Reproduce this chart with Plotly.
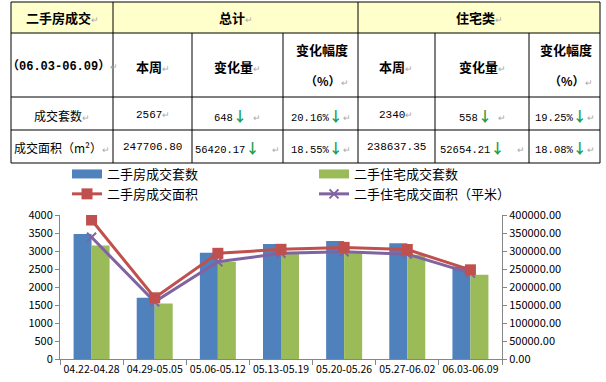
import plotly.graph_objects as go

W, H = 606, 382

# ---------------- data ----------------
categories = ["04.22-04.28", "04.29-05.05", "05.06-05.12", "05.13-05.19",
              "05.20-05.26", "05.27-06.02", "06.03-06.09"]
total_units = [3470, 1700, 2950, 3195, 3280, 3215, 2567]
res_units = [3150, 1540, 2700, 2950, 2970, 2898, 2340]
total_area = [386000, 170000, 293600, 304700, 310000, 304126.97, 247706.80]
res_area = [338000, 159000, 270000, 293600, 298000, 291291.56, 238637.35]

series_names = ["二手房成交套数", "二手住宅成交套数", "二手房成交面积", "二手住宅成交面积（平米）"]

left_ticks = list(range(0, 4001, 500))
right_ticks = list(range(0, 400001, 50000))
right_tick_labels = [f"{v:.2f}" for v in right_ticks]

# table content
period = "（06.03-06.09）"
table_header = ["二手房成交", "总计", "住宅类"]
col_heads = ["本周", "变化量", "变化幅度"]
row_labels = ["成交套数", "成交面积（m²）"]
total_now = ["2567", "247706.80"]
total_chg = ["648", "56420.17"]
total_pct = ["20.16%", "18.55%"]
res_now = ["2340", "238637.35"]
res_chg = ["558", "52654.21"]
res_pct = ["19.25%", "18.08%"]

BLUE, GREEN, RED, PURPLE = "#4F81BD", "#9BBB59", "#C0504D", "#8064A2"
CJK = "Noto Sans CJK SC"
MONO = "Liberation Mono, Noto Sans CJK SC"

fig = go.Figure()
fig.add_trace(go.Bar(x=categories, y=total_units, name=series_names[0],
                     marker=dict(color=BLUE, line=dict(width=0)), showlegend=False))
fig.add_trace(go.Bar(x=categories, y=res_units, name=series_names[1],
                     marker=dict(color=GREEN, line=dict(width=0)), showlegend=False))
fig.add_trace(go.Scatter(x=categories, y=res_area, name=series_names[3], yaxis="y2",
                         mode="lines+markers", line=dict(color=PURPLE, width=3),
                         marker=dict(symbol="x-thin", size=9, color=PURPLE,
                                     line=dict(color=PURPLE, width=2)),
                         legendrank=4))
fig.add_trace(go.Scatter(x=categories, y=total_area, name=series_names[2], yaxis="y2",
                         mode="lines+markers", line=dict(color=RED, width=3),
                         marker=dict(symbol="square", size=11, color=RED),
                         legendrank=3))
# legend entries for the bar series (wide rectangle swatches as in the reference)
fig.add_trace(go.Scatter(x=[None], y=[None], name=series_names[0], mode="lines",
                         line=dict(color=BLUE, width=9), legendrank=1, hoverinfo="skip"))
fig.add_trace(go.Scatter(x=[None], y=[None], name=series_names[1], mode="lines",
                         line=dict(color=GREEN, width=9), legendrank=2, hoverinfo="skip"))


def px(x):
    return x / W


def py(y):
    return 1 - y / H


shapes = []
annotations = []

# ---------------- table ----------------
cols = [11, 113, 192, 283, 358, 435, 529, 600]
rows = [2, 33, 97, 130, 163]

shapes.append(dict(type="rect", xref="paper", yref="paper",
                   x0=px(cols[0]), x1=px(cols[-1]), y0=py(rows[0]), y1=py(rows[1]),
                   fillcolor="#FFFFCC", line=dict(width=0), layer="below"))
LINE = dict(color="#000000", width=1)
for r in rows:
    shapes.append(dict(type="line", xref="paper", yref="paper",
                       x0=px(cols[0]), x1=px(cols[-1]), y0=py(r), y1=py(r), line=LINE))
for i, c in enumerate(cols):
    y0 = rows[1] if i in (2, 3, 5, 6) else rows[0]
    shapes.append(dict(type="line", xref="paper", yref="paper",
                       x0=px(c), x1=px(c), y0=py(y0), y1=py(rows[-1]), line=LINE))

RET = "<span style='color:#A8A8A8;font-size:9px'>↵</span>"
ARROW = ("<span style='color:#16A04A;font-family:Noto Sans CJK SC;"
         "font-size:14px;font-weight:bold'>↓</span>")


def cell_text(x, y, text, size=12, family=CJK):
    annotations.append(dict(xref="paper", yref="paper", x=px(x), y=py(y),
                            text=text, showarrow=False, xanchor="center", yanchor="middle",
                            font=dict(family=family, size=size, color="#000000")))


# header row
cell_text((cols[0] + cols[1]) / 2, 17.5, f"<b>{table_header[0]}</b>{RET}", 13)
cell_text((cols[1] + cols[4]) / 2, 17.5, f"<b>{table_header[1]}</b>{RET}", 13)
cell_text((cols[4] + cols[7]) / 2, 17.5, f"<b>{table_header[2]}</b>{RET}", 13)

# second row
cell_text((cols[0] + cols[1]) / 2, 66, f"<b>{period}</b>{RET}", 12, MONO)
for base in (1, 4):
    cell_text((cols[base] + cols[base + 1]) / 2, 66, f"<b>{col_heads[0]}</b>{RET}", 13)
    cell_text((cols[base + 1] + cols[base + 2]) / 2, 66, f"<b>{col_heads[1]}</b>{RET}", 13)
    cell_text((cols[base + 2] + cols[base + 3]) / 2 + 1, 50, f"<b>{col_heads[2]}</b>", 13)
    cell_text((cols[base + 2] + cols[base + 3]) / 2 + 6, 80, f"<b>（%）</b>{RET}", 12)

# data rows
row_y = [115, 147]
for k in range(2):
    y = row_y[k]
    cell_text((cols[0] + cols[1]) / 2, y, f"{row_labels[k]}{RET}", 12, CJK)
    cell_text((cols[1] + cols[2]) / 2, y, f"{total_now[k]}{RET if k == 0 else ''}", 11, MONO)
    cell_text((cols[2] + cols[3]) / 2, y, f"{total_chg[k]}{ARROW}{'  ' if k else ' '}{RET}", 10.5, MONO)
    cell_text((cols[3] + cols[4]) / 2, y, f"{total_pct[k]}{ARROW}{RET}", 10.5, MONO)
    cell_text((cols[4] + cols[5]) / 2, y, f"{res_now[k]}{RET if k == 0 else ''}", 11, MONO)
    cell_text((cols[5] + cols[6]) / 2, y, f"{res_chg[k]}{ARROW}{'  ' if k else ' '}{RET}", 10.5, MONO)
    cell_text((cols[6] + cols[7]) / 2, y, f"{res_pct[k]}{ARROW}{RET}", 10.5, MONO)

# ---------------- layout ----------------
x0p, x1p = 60, 502
y_top, y_bot = 215, 359

fig.update_layout(
    width=W, height=H,
    margin=dict(l=0, r=0, t=0, b=0, autoexpand=False),
    paper_bgcolor="white", plot_bgcolor="white",
    font=dict(family=CJK, size=11, color="#000000"),
    barmode="group", bargap=0.43, bargroupgap=0,
    showlegend=True,
    legend=dict(orientation="h", x=px(67), y=py(159), xanchor="left", yanchor="top",
                font=dict(family=CJK, size=13, color="#000000"),
                entrywidth=202, entrywidthmode="pixels",
                itemwidth=30, tracegroupgap=0, bgcolor="rgba(0,0,0,0)",
                traceorder="normal"),
    xaxis=dict(domain=[px(x0p), px(x1p)], type="category", automargin=False,
               showline=True, linecolor="#868686", linewidth=1,
               ticks="outside", ticklen=5, tickcolor="#868686", tickson="boundaries",
               tickangle=0,
               tickfont=dict(family=CJK, size=10.5, color="#000000"),
               showgrid=False, zeroline=False, fixedrange=True),
    yaxis=dict(domain=[py(y_bot), py(y_top)], range=[0, 4000], automargin=False,
               tickvals=left_ticks, ticktext=[str(v) for v in left_ticks],
               showline=True, linecolor="#868686", linewidth=1,
               ticks="outside", ticklen=4, tickcolor="#868686",
               tickfont=dict(family=CJK, size=11, color="#000000"),
               showgrid=False, zeroline=False),
    yaxis2=dict(overlaying="y", side="right", range=[0, 400000], automargin=False,
                anchor="x",
                tickvals=right_ticks, ticktext=right_tick_labels,
                showline=True, linecolor="#868686", linewidth=1,
                ticks="outside", ticklen=4, tickcolor="#868686",
                tickfont=dict(family=CJK, size=11, color="#000000"),
                showgrid=False, zeroline=False),
    shapes=shapes,
    annotations=annotations,
)

fig.write_html("out.html",
               config={"displayModeBar": False},
               post_script="document.body.style.margin='0';"
                           "document.body.style.overflow='hidden';")
